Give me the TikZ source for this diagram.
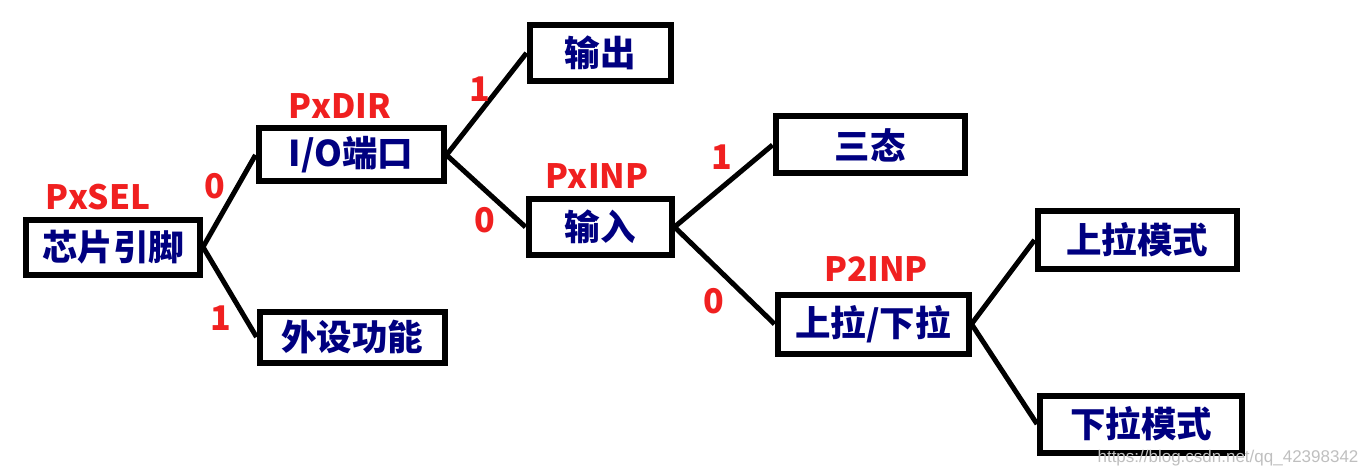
\documentclass[tikz,border=0pt]{standalone}
\usepackage{fontspec}
\setmainfont{Noto Sans CJK SC}
\newfontfamily\markfont{Liberation Sans}
\usepackage{tikz}
\usetikzlibrary{calc,positioning}
\usepackage{xcolor}
\definecolor{boxtext}{HTML}{000080}
\definecolor{regred}{HTML}{F02020}

\begin{document}
\begin{tikzpicture}[x=1pt,y=-1pt,
    pinbox/.style={draw, line width=6pt, inner sep=0pt, text=boxtext,
      font=\fontsize{35.5}{35.5}\selectfont\bfseries},
    reglabel/.style={text=regred, font=\fontsize{33.5}{33.5}\selectfont\bfseries},
    bitlabel/.style={text=regred, font=\fontsize{34}{34}\selectfont\bfseries},
    branch/.style={line width=5pt}]
    \useasboundingbox (0,0) rectangle (1358,476);

    % the boxes
    \node[pinbox, minimum width=174pt, minimum height=55pt] (pin)  at (113,247) {芯片引脚};
    \node[pinbox, minimum width=185pt, minimum height=51pt] (periph) at (352,337) {外设功能};
    \node[pinbox, minimum width=185pt, minimum height=53pt] (io)   at (351,155) {I/O端口};
    \node[pinbox, minimum width=141pt, minimum height=56pt] (out)  at (600,53)  {输出};
    \node[pinbox, minimum width=143pt, minimum height=56pt] (in)   at (600,227) {输入};
    \node[pinbox, minimum width=189pt, minimum height=57pt] (tri)  at (870,145) {三态};
    \node[pinbox, minimum width=191pt, minimum height=59pt] (pull) at (873,324) {上拉/下拉};
    \node[pinbox, minimum width=199pt, minimum height=58pt] (up)   at (1137,240) {上拉模式};
    \node[pinbox, minimum width=202pt, minimum height=57pt] (down) at (1141,424) {下拉模式};

    % the registers
    \node[reglabel] (sel)  at (98,197)  {PxSEL};
    \node[reglabel] (dir)  at (340,106) {PxDIR};
    \node[reglabel] (inp)  at (597,176) {PxINP};
    \node[reglabel] (inp2) at (876,269) {P2INP};

    % the branches
    \draw[branch] (pin.east)  -- (io.west);
    \draw[branch] (pin.east)  -- (periph.west);
    \draw[branch] (io.east)   -- (out.west);
    \draw[branch] (io.east)   -- (in.west);
    \draw[branch] (in.east)   -- (tri.west);
    \draw[branch] (in.east)   -- (pull.west);
    \draw[branch] (pull.east) -- (up.west);
    \draw[branch] (pull.east) -- (down.west);

    % the bit values
    \node[bitlabel] (b0) at (215,186) {0};
    \node[bitlabel] (b1) at (221,318) {1};
    \node[bitlabel] (b2) at (480,89)  {1};
    \node[bitlabel] (b3) at (485,220) {0};
    \node[bitlabel] (b4) at (722,157) {1};
    \node[bitlabel] (b5) at (714,301) {0};

    \node[text=black!25, font=\markfont\fontsize{17}{17}\selectfont] (mark) at (1228,458) {https://blog.csdn.net/qq\_42398342};
\end{tikzpicture}
\end{document}
